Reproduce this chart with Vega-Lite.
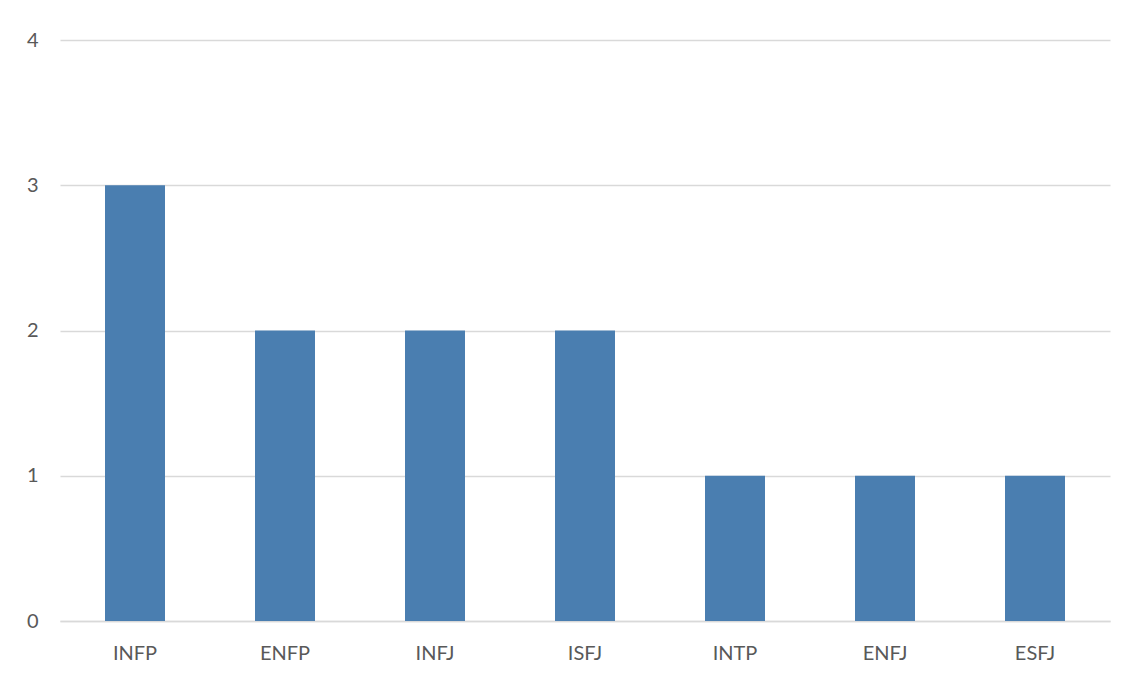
{
  "$schema": "https://vega.github.io/schema/vega-lite/v6.json",
  "width": 1050,
  "height": 581,
  "autosize": {"type": "none"},
  "padding": {"left": 60, "top": 40, "right": 16, "bottom": 56},
  "background": "white",
  "data": {"values": [
    {"type": "INFP", "count": 3},
    {"type": "ENFP", "count": 2},
    {"type": "INFJ", "count": 2},
    {"type": "ISFJ", "count": 2},
    {"type": "INTP", "count": 1},
    {"type": "ENFJ", "count": 1},
    {"type": "ESFJ", "count": 1}
  ]},
  "mark": {"type": "bar", "color": "#4a7eb0"},
  "encoding": {
    "x": {
      "field": "type", "type": "nominal", "sort": null,
      "scale": {"paddingInner": 0.6, "paddingOuter": 0.3},
      "axis": {"title": null, "labelAngle": 0, "ticks": false, "domain": true, "domainColor": "#d9d9d9", "domainWidth": 1.5, "labelPadding": 22, "labelFontSize": 20, "labelFont": "Lato", "labelColor": "#595959"}
    },
    "y": {
      "field": "count", "type": "quantitative",
      "scale": {"domain": [0, 4]},
      "axis": {"title": null, "values": [0, 1, 2, 3, 4], "labelOverlap": false, "ticks": false, "domain": false, "gridColor": "#d9d9d9", "gridWidth": 1.5, "labelPadding": 22, "labelFontSize": 20, "labelFont": "Lato", "labelColor": "#595959"}
    }
  },
  "config": {"view": {"stroke": null}}
}
